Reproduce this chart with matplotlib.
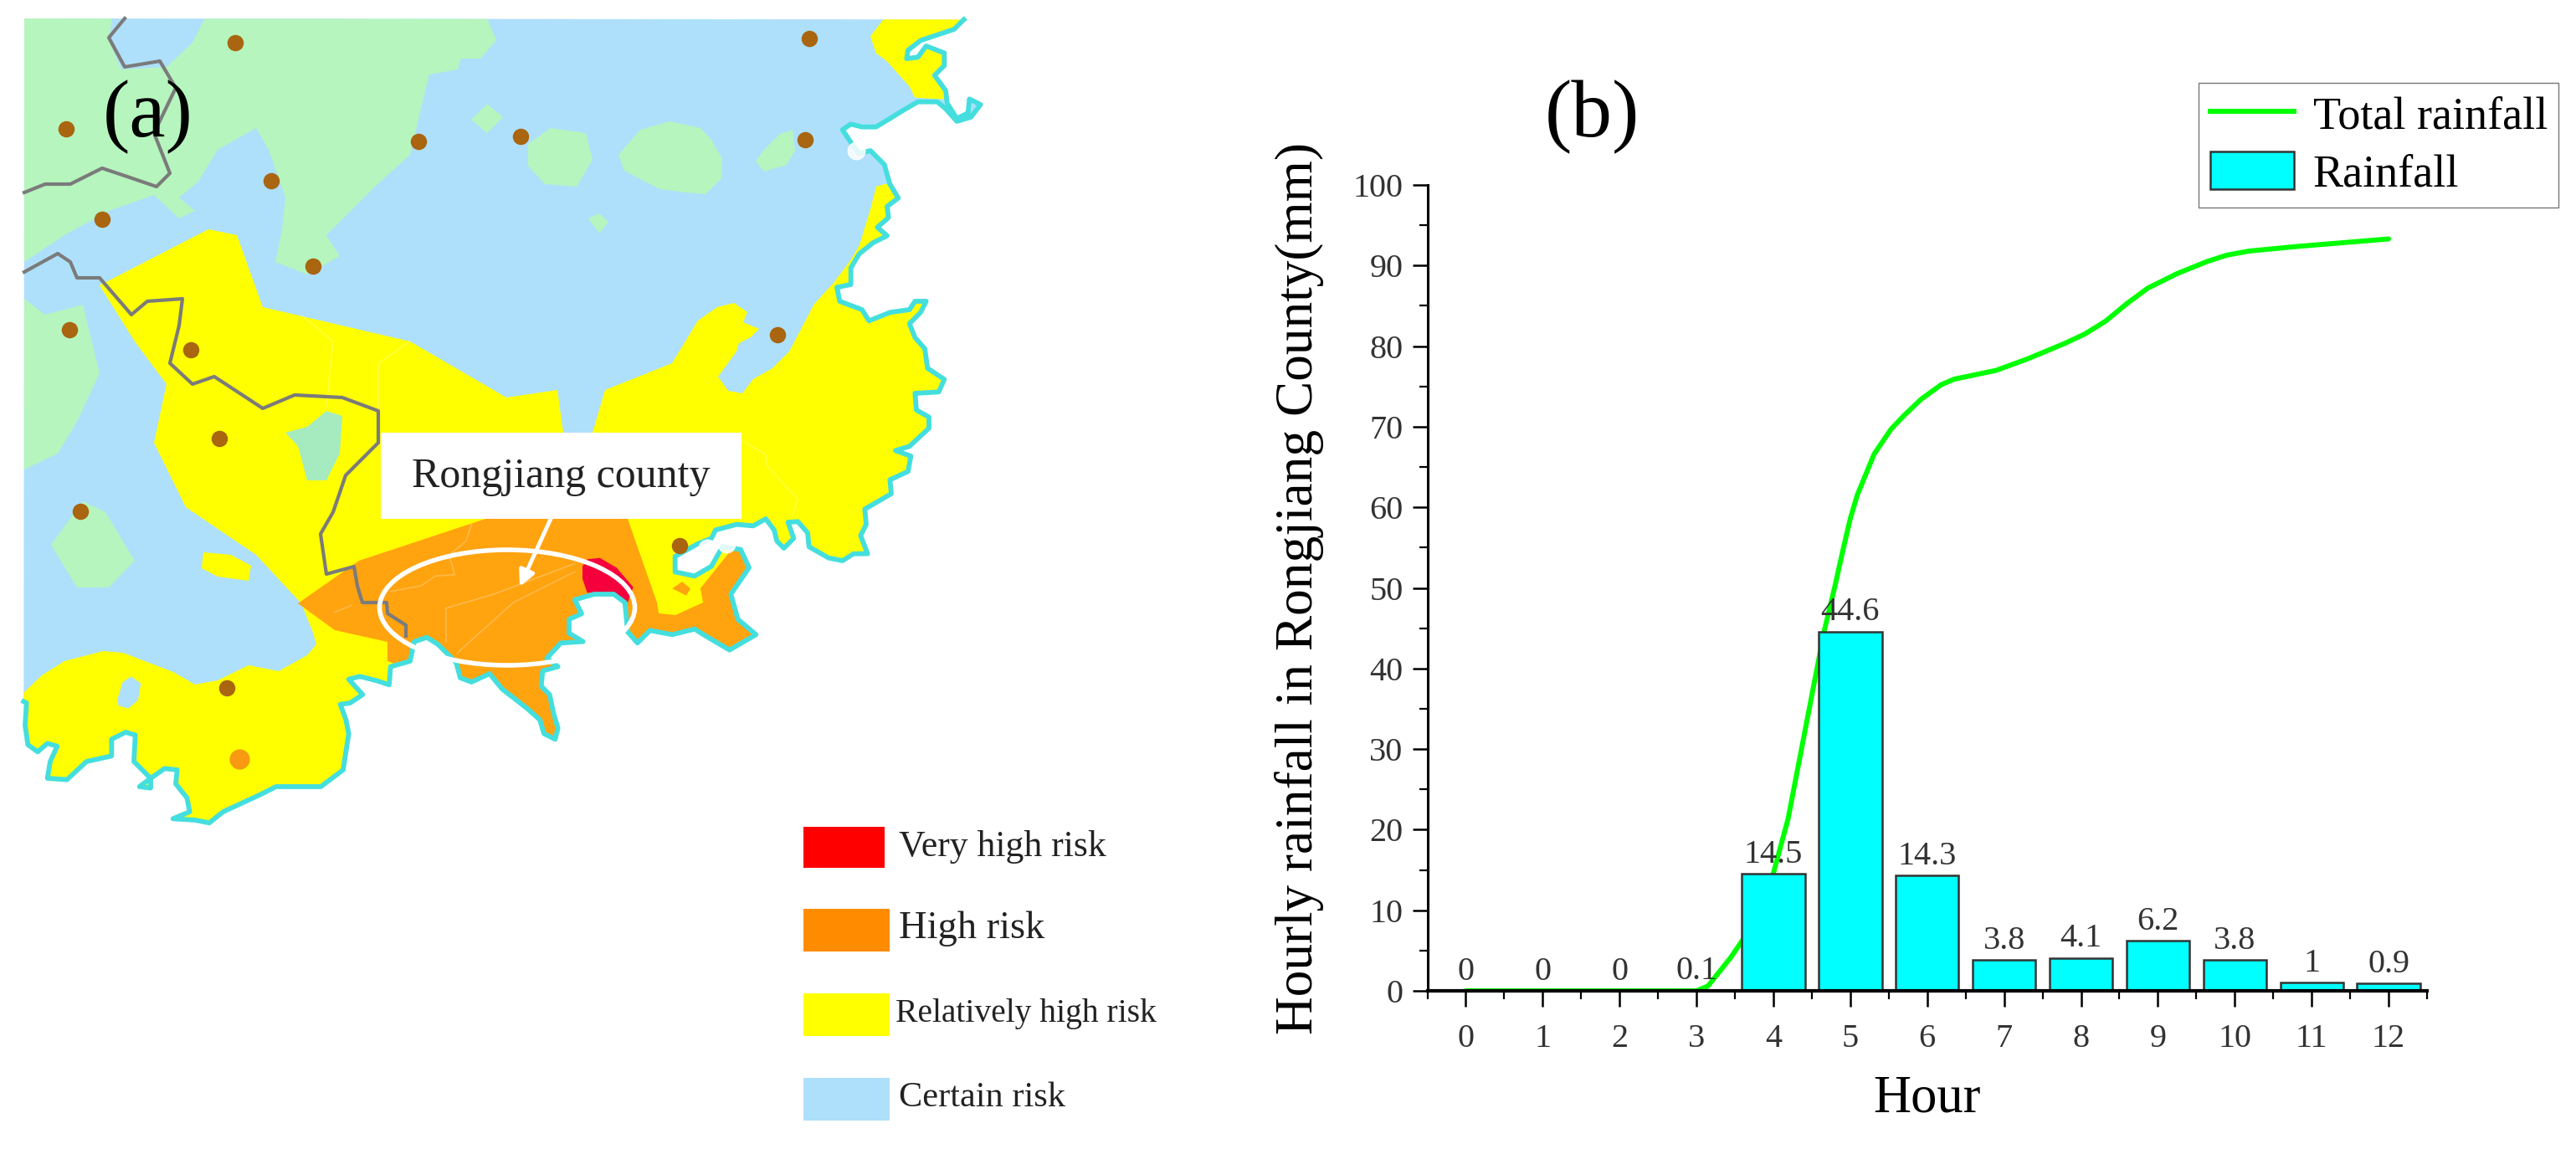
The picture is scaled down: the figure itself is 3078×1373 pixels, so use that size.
import matplotlib
matplotlib.use("Agg")
import matplotlib.pyplot as plt
from matplotlib.patches import Polygon, Ellipse, Rectangle, Patch
from matplotlib.lines import Line2D

plt.rcParams['font.family'] = ['Liberation Serif', 'DejaVu Serif']


def crop(ox, oy, pts):
    # outlines were traced on 3x crops, bring them back to picture pixels
    return [(ox + x / 3, oy + y / 3) for x, y in pts]


# --- chart (b) data ---
hours = [0, 1, 2, 3, 4, 5, 6, 7, 8, 9, 10, 11, 12]
rainfall = [0, 0, 0, 0.1, 14.5, 44.6, 14.3, 3.8, 4.1, 6.2, 3.8, 1, 0.9]
rainfall_labels = ['0', '0', '0', '0.1', '14.5', '44.6', '14.3', '3.8', '4.1', '6.2', '3.8', '1', '0.9']

# points
total_hours = [0, 1, 2, 3, 3.15, 3.3, 3.45, 3.6, 3.8, 4.0, 4.19, 4.44, 4.66, 4.8, 4.9, 5.0, 5.09, 5.31, 5.53, 5.7, 5.92,
               6.18, 6.35, 6.6, 6.9, 7.3, 7.78, 8.05, 8.32, 8.6, 8.87, 9.25, 9.64, 9.9, 10.19, 10.85, 12]
total_rain = [0, 0, 0, 0, 0.6, 2.4, 4.2, 6.3, 10, 14.6, 21.3, 33.7, 44.6, 50.2, 54.5, 58.6, 61.5, 66.6, 69.7, 71.4, 73.4,
              75.2, 75.9, 76.4, 77, 78.4, 80.3, 81.5, 83.1, 85.3, 87.2, 89, 90.5, 91.3, 91.8, 92.4, 93.3]

# --- map (a) data, outlines ---
coast = (crop(800, 20, [(1055, 10), (1020, 45), (960, 65), (900, 85), (855, 120), (850, 150), (890, 145), (920, 105),
                        (985, 130), (985, 175), (950, 210), (990, 265), (995, 310), (1030, 365), (1070, 345), (1075, 295),
                        (1115, 315), (1080, 360), (1030, 375), (990, 330), (960, 305), (890, 305), (830, 340), (790, 365),
                        (740, 395), (690, 395), (650, 385), (620, 405), (650, 450), (680, 490), (720, 480), (770, 530),
                        (790, 600), (820, 650), (780, 680), (785, 720), (745, 755), (780, 785), (730, 810), (680, 850),
                        (650, 900), (650, 960), (600, 970), (610, 1020), (690, 1050), (715, 1090), (790, 1060), (860, 1050),
                        (880, 1020), (920, 1020), (900, 1060), (860, 1100), (880, 1150), (915, 1190)])
         + crop(800, 420, [(925, 60), (985, 100), (965, 145), (880, 150), (885, 210), (930, 235), (930, 275), (860, 340),
                           (810, 355), (865, 375), (855, 430), (790, 460), (795, 510), (700, 565), (705, 620), (685, 660),
                           (710, 725), (660, 725), (620, 750), (570, 740), (500, 700), (495, 650), (460, 610), (425, 612),
                           (445, 670), (410, 705), (385, 680), (375, 640), (345, 600), (300, 625), (240, 620), (165, 640),
                           (150, 670), (100, 690), (20, 735), (20, 790), (90, 805), (150, 770), (190, 700), (255, 710),
                           (285, 775), (220, 870), (245, 960), (310, 1015), (215, 1070)])
         + crop(400, 620, [(1330, 420), (1290, 395), (1210, 415), (1130, 400), (1085, 445), (1050, 405), (1040, 300),
                           (1000, 270), (930, 270), (860, 290), (885, 340), (840, 360), (840, 410), (890, 440), (810, 445),
                           (760, 500), (800, 530), (745, 545), (740, 600), (770, 630), (785, 700), (800, 750), (790, 790),
                           (750, 770), (735, 720), (690, 680), (600, 610), (555, 555), (490, 585), (450, 570), (435, 515),
                           (370, 450), (330, 425), (285, 440), (270, 510), (200, 530), (195, 595), (150, 580), (90, 565),
                           (50, 575), (100, 630), (55, 660), (20, 665), (40, 720), (50, 770)])
         + crop(20, 740, [(1170, 540), (1090, 600), (1040, 600), (930, 600), (870, 630), (740, 690), (690, 730), (640, 720),
                          (560, 715), (620, 690), (610, 640), (570, 590), (575, 540), (530, 535), (480, 570), (480, 605),
                          (440, 600), (480, 570), (420, 510), (425, 415), (390, 405), (340, 430), (340, 490), (250, 510),
                          (180, 575), (110, 570), (120, 510), (145, 455), (110, 445), (75, 475), (40, 450), (30, 380),
                          (35, 300), (25, 295)]))
land = [(29, 22)] + coast

green_north = [(29, 22), (134, 22), (130, 48), (145, 83), (199, 80), (230, 51), (245, 22), (582, 22), (593, 48), (574, 70),
               (551, 70), (547, 83), (513, 89), (505, 121), (490, 185), (448, 223), (390, 281), (406, 306), (367, 328),
               (329, 313), (337, 274), (341, 236), (321, 179), (306, 153), (260, 179), (237, 217), (214, 236), (233, 252),
               (214, 261), (184, 233), (130, 252), (77, 281), (29, 313)]
green_west = [(29, 357), (54, 376), (99, 364), (119, 446), (92, 504), (69, 542), (29, 561)]
green_island = [(61, 651), (99, 599), (126, 612), (161, 670), (130, 702), (92, 702)]
green_blob1 = [(563, 143), (582, 124), (601, 140), (582, 159)]
green_blob2 = [(631, 172), (658, 153), (700, 159), (708, 191), (689, 223), (651, 220), (631, 198)]
green_blob3 = [(739, 185), (765, 155), (800, 145), (837, 153), (850, 167), (863, 190), (862, 213), (843, 232), (820, 230),
               (788, 226), (746, 204)]
green_blob4 = [(903, 193), (912, 180), (932, 160), (947, 155), (950, 180), (940, 197), (913, 205)]
green_blob5 = [(703, 261), (716, 255), (727, 265), (716, 279)]
green_lake = [(341, 517), (367, 510), (390, 491), (409, 497), (406, 542), (390, 574), (367, 574), (356, 533)]
green_parts = [green_north, green_west, green_island, green_blob1, green_blob2, green_blob3, green_blob4, green_blob5]

yellow_main = [(119, 341), (249, 274), (283, 281), (314, 367), (490, 408), (605, 475), (666, 466), (673, 517), (708, 517),
               (723, 466), (803, 434), (834, 383), (857, 367), (877, 362), (893, 373), (888, 385), (907, 393), (897, 403),
               (883, 410), (880, 420), (858, 450), (870, 467), (887, 470), (900, 453), (923, 440), (943, 420), (973, 363),
               (997, 337), (1017, 310), (1027, 293), (1040, 250), (1047, 223), (1057, 220), (1200, 220), (1200, 1000),
               (10, 1000), (10, 828), (28, 828), (50, 807), (77, 790), (123, 778), (147, 780), (207, 803), (233, 818),
               (260, 813), (297, 795), (333, 802), (367, 783), (378, 770), (373, 753), (360, 721), (306, 663), (222, 606),
               (184, 529), (199, 459), (161, 408)]
yellow_north = crop(800, 20, [(770, 5), (720, 70), (740, 130), (780, 160), (860, 250), (880, 290), (960, 295), (1150, 295),
                              (1150, 0)])
yellow_islet = [(243, 660), (276, 663), (300, 676), (297, 694), (260, 689), (241, 679)]
blue_pond = crop(20, 740, [(360, 290), (380, 225), (410, 205), (445, 230), (435, 290), (400, 320), (365, 310)])

orange_main = [(356, 721), (429, 670), (580, 620), (750, 620), (785, 720), (787, 733), (807, 735), (840, 720), (837, 703),
               (857, 678), (877, 653), (960, 653), (960, 800), (900, 920), (560, 920), (490, 800), (463, 790), (463, 767),
               (400, 753)]
orange_speck = crop(800, 420, [(10, 850), (45, 825), (75, 850), (60, 875)])
red_zone = crop(400, 620, [(905, 145), (950, 140), (1010, 175), (1070, 245), (1050, 300), (1000, 270), (930, 265), (905, 265),
                           (888, 215), (888, 170)])

border_north = [(149, 22), (130, 45), (149, 80), (191, 73), (210, 105), (184, 159), (203, 207), (187, 223), (149, 210),
                (122, 201), (84, 220), (54, 220), (29, 230)]
border_south = [(29, 325), (69, 303), (84, 313), (92, 332), (119, 332), (157, 376), (176, 360), (218, 357), (214, 389),
                (203, 434), (230, 459), (256, 450), (314, 488), (352, 472), (409, 475), (452, 491), (452, 529), (413, 568),
                (398, 612), (383, 638), (390, 686), (423, 677), (427, 700), (433, 720), (462, 720), (463, 733), (485, 747),
                (485, 760)]
county_lines = [crop(400, 620, [(490, 20), (470, 80), (410, 130), (430, 200), (360, 205), (310, 240), (200, 260)]),
                crop(400, 620, [(400, 320), (400, 440)]),
                crop(400, 620, [(0, 335), (60, 310)]),
                crop(400, 620, [(400, 320), (570, 270), (650, 240), (860, 160)]),
                crop(400, 620, [(440, 480), (640, 300), (860, 190)]),
                crop(800, 420, [(260, 320), (345, 370), (350, 410), (460, 530), (440, 590)]),
                [(452, 491), (452, 434), (490, 408)],
                [(360, 376), (398, 408), (390, 485)]]

cities = [(281, 51), (967, 46), (79, 154), (500, 169), (622, 163), (962, 167), (324, 216), (122, 262), (374, 318), (83, 394),
          (929, 400), (228, 418), (262, 524), (96, 611), (812, 652), (271, 822)]
capital = [(286, 907)]
white_glare = [(1023, 180), (868, 650), (845, 655)]

risk_names = ['Very high risk', 'High risk', 'Relatively high risk', 'Certain risk']
risk_colors = ['#FF0000', '#FF8C00', '#FFFF00', '#AEE0FB']

W, H = 3078, 1373
fig = plt.figure(figsize=(W / 100, H / 100), dpi=100)

# --- 1. Map ---
ax_map = fig.add_axes([0, 1 - 1000 / H, 1200 / W, 1000 / H])
ax_map.set_xlim(0, 1200)
ax_map.set_ylim(1000, 0)
ax_map.axis('off')

land_patch = Polygon(land, closed=True, fc='#AEE0FB', ec='none', zorder=1)
ax_map.add_patch(land_patch)


def add_region(points, color, z):
    # every region is clipped to the land so it stops at the coast
    p = Polygon(points, closed=True, fc=color, ec='none', zorder=z)
    ax_map.add_patch(p)
    p.set_clip_path(land_patch)


for part in green_parts:
    add_region(part, '#B6F5BE', 2)
add_region(yellow_main, '#FFFF00', 3)
add_region(yellow_north, '#FFFF00', 3)
add_region(yellow_islet, '#FFFF00', 3)
add_region(blue_pond, '#AEE0FB', 4)
add_region(green_lake, '#A6EBC0', 4)
add_region(orange_main, '#FFA30F', 5)
add_region(orange_speck, '#FFA30F', 6)
add_region(red_zone, '#F5003C', 6)

for line in county_lines:
    ax_map.plot([p[0] for p in line], [p[1] for p in line], color='#FFFFFF', lw=1.2, alpha=0.25, zorder=7)

ax_map.plot([p[0] for p in coast], [p[1] for p in coast], color='#45DEDE', lw=4.2, zorder=8, solid_joinstyle='round')

for line in [border_north, border_south]:
    ax_map.plot([p[0] for p in line], [p[1] for p in line], color='#7B7B7B', lw=3, zorder=9)

ax_map.scatter([p[0] for p in white_glare], [p[1] for p in white_glare], s=220, color='white', alpha=0.85, zorder=9)
ax_map.scatter([p[0] for p in cities], [p[1] for p in cities], s=170, color='#A9650F', zorder=10)
ax_map.scatter([p[0] for p in capital], [p[1] for p in capital], s=270, color='#F79A12', zorder=10)

# label box, ellipse and arrow
ax_map.add_patch(Rectangle((455, 517), 431, 103, fc='white', ec='none', zorder=11))
ax_map.text(670, 570, 'Rongjiang county', fontsize=36, color='#222222', ha='center', va='center', zorder=12)
ax_map.add_patch(Ellipse((606, 726), 305, 138, fc='none', ec='white', lw=4, zorder=12))
ax_map.annotate('', xy=(621, 701), xytext=(658, 620), zorder=12,
                arrowprops=dict(arrowstyle='-|>', color='white', lw=3.5, mutation_scale=28, shrinkA=0, shrinkB=0))
ax_map.text(177, 140, '(a)', fontsize=70, color='black', ha='center', va='center', zorder=13)

# risk key, drawn in figure pixels
ax_key = fig.add_axes([0, 0, 1, 1], facecolor='none')
ax_key.set_xlim(0, W)
ax_key.set_ylim(H, 0)
ax_key.axis('off')
key_tops = [988, 1086, 1187, 1288]
key_sizes = [31.5, 33.5, 28.5, 30.5]
key_x = [1074, 1074, 1070, 1074]
for i in range(4):
    rect_w = 97 if i == 0 else 103
    rect_h = 49 if i == 0 else 51
    ax_key.add_patch(Rectangle((960, key_tops[i]), rect_w, rect_h, fc=risk_colors[i], ec='none'))
    ax_key.text(key_x[i], key_tops[i] + 24, risk_names[i], fontsize=key_sizes[i], color='#222222', va='center')

# --- 2. Rainfall chart ---
ax = fig.add_axes([1705.5 / W, 1 - 1184 / H, (2900 - 1705.5) / W, (1184 - 221) / H])
ax.plot(total_hours, total_rain, color='#00FF00', lw=4.3, zorder=2, solid_capstyle='round')
ax.bar(hours, rainfall, width=0.82, color='#00FFFF', edgecolor='#333333', lw=1.8, zorder=3)
for h, v, lab in zip(hours, rainfall, rainfall_labels):
    ax.annotate(lab, (h, v), xytext=(0, 3), textcoords='offset points', ha='center', va='bottom',
                fontsize=29, color='#333333', zorder=4)

ax.set_xlim(-0.5, 12.5)
ax.set_ylim(0, 100)
ax.set_xticks(hours)
ax.set_xticks([h - 0.5 for h in hours] + [12.5], minor=True)
ax.set_yticks(range(0, 101, 10))
ax.set_yticks(range(5, 100, 10), minor=True)
ax.spines['top'].set_visible(False)
ax.spines['right'].set_visible(False)
ax.spines['left'].set_linewidth(2.2)
ax.spines['bottom'].set_linewidth(3)
ax.spines['bottom'].set_zorder(5)
ax.tick_params(axis='x', which='major', length=14, width=1.8, pad=14, labelsize=29, labelcolor='#333333')
ax.tick_params(axis='y', which='major', length=13, width=1.8, pad=8, labelsize=29, labelcolor='#333333')
ax.tick_params(which='minor', length=7, width=1.6)
ax.set_xlabel('Hour', fontsize=45, labelpad=18)
ax.set_ylabel('Hourly rainfall in Rongjiang County(mm)', fontsize=45.5, labelpad=25)
ax.patch.set_alpha(0)

ax_key.text(1902, 140, '(b)', fontsize=70, color='black', ha='center', va='center')

handles = [Line2D([0], [0], color='#00FF00', lw=4.3),
           Patch(fc='#00FFFF', ec='#333333', lw=1.8)]
ax.legend(handles, ['Total rainfall', 'Rainfall'], loc='upper left', fontsize=39, frameon=True, fancybox=False,
          edgecolor='#777777', framealpha=1, bbox_to_anchor=(2627 / W, 1 - 99 / H), bbox_transform=fig.transFigure,
          borderaxespad=0, handlelength=1.85, handleheight=0.9, handletextpad=0.42, labelspacing=0.28, borderpad=0.25)

fig.savefig('out.png', dpi=100)
